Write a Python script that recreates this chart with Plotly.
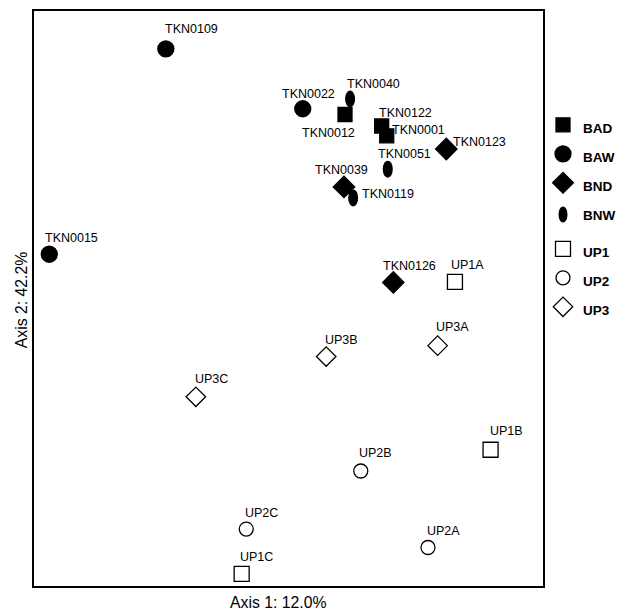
import plotly.graph_objects as go

FONT = "Liberation Sans, Arial, Helvetica, sans-serif"

# ---------------- data (ordination scores) -------------
bad_names = ["TKN0012", "TKN0122", "TKN0001"]
bad_x = [0.111, 0.183, 0.193]
bad_y = [0.320, 0.300, 0.283]

baw_names = ["TKN0109", "TKN0022", "TKN0015"]
baw_x = [-0.241, 0.028, -0.470]
baw_y = [0.434, 0.330, 0.077]

bnd_names = ["TKN0123", "TKN0039", "TKN0126"]
bnd_x = [0.310, 0.109, 0.206]
bnd_y = [0.260, 0.194, 0.028]

bnw_names = ["TKN0040", "TKN0051", "TKN0119"]
bnw_x = [0.121, 0.195, 0.127]
bnw_y = [0.347, 0.225, 0.175]

up1_names = ["UP1A", "UP1B", "UP1C"]
up1_x = [0.327, 0.397, -0.092]
up1_y = [0.029, -0.263, -0.479]

up2_names = ["UP2A", "UP2B", "UP2C"]
up2_x = [0.274, 0.142, -0.083]
up2_y = [-0.433, -0.300, -0.401]

up3_names = ["UP3A", "UP3B", "UP3C"]
up3_x = [0.293, 0.074, -0.182]
up3_y = [-0.082, -0.101, -0.171]

x_title = "Axis 1: 12.0%"
y_title = "Axis 2: 42.2%"

# ---------------- label placement (pixel offsets: right, down) ---------------------
label_offset = {
    "TKN0040": (-4, -16), "TKN0022": (-21, -16), "TKN0012": (-44, 17),
    "TKN0122": (-3, -14), "TKN0001": (5, -7), "TKN0123": (6, -8),
    "TKN0051": (-10, -16), "TKN0039": (-29, -18), "TKN0119": (8, -5),
    "TKN0015": (-5, -17), "TKN0109": (-1, -21), "TKN0126": (-11, -17.5),
    "UP1A": (-4, -18), "UP3A": (-2, -19.5), "UP3B": (-2, -18),
    "UP3C": (-1, -19), "UP1B": (-1, -19.5), "UP2B": (-2, -19),
    "UP2C": (-2, -17), "UP2A": (-1, -17.5), "UP1C": (-2, -18),
}
LABEL_DX, LABEL_DY = -1.5, 1   # global fine adjustment

ELLIPSE_W, ELLIPSE_H = 10, 17   # pixel size of the BNW ellipse symbol

fig = go.Figure()

def leg_name(s):
    return f"<span style='font-size:13.5px'>{s}</span>"

groups = [
    ("BAD", bad_names, bad_x, bad_y, "square", 14, "filled", 1),
    ("BAW", baw_names, baw_x, baw_y, "circle", 16, "filled", 2),
    ("BND", bnd_names, bnd_x, bnd_y, "diamond", 16.5, "filled", 3),
    ("UP1", up1_names, up1_x, up1_y, "square-open", 15, "open", 5),
    ("UP2", up2_names, up2_x, up2_y, "circle-open", 14, "open", 6),
    ("UP3", up3_names, up3_x, up3_y, "diamond-open", 15, "open", 7),
]

for name, names, xs, ys, sym, size, grp, rank in groups:
    fig.add_trace(go.Scatter(
        x=xs, y=ys, mode="markers", name=leg_name(name), text=names,
        legendgroup=grp, legendrank=rank,
        marker=dict(symbol=sym, size=size, color="black",
                    line=dict(color="black", width=1.3)),
        hoverinfo="text",
    ))

# BNW legend entry (its icon is drawn as an ellipse shape below)
fig.add_trace(go.Scatter(
    x=[None], y=[None], mode="markers", name=leg_name("BNW"),
    legendgroup="filled", legendrank=4,
    marker=dict(symbol="circle", size=1, color="rgba(0,0,0,0)"),
    hoverinfo="skip",
))

# BNW: vertical ellipses (pixel-sized shapes anchored at the data points)
for x, y in zip(bnw_x, bnw_y):
    fig.add_shape(
        type="circle", xref="x", yref="y", xsizemode="pixel", ysizemode="pixel",
        xanchor=x, yanchor=y, x0=-ELLIPSE_W / 2, x1=ELLIPSE_W / 2,
        y0=-ELLIPSE_H / 2, y1=ELLIPSE_H / 2,
        fillcolor="black", line=dict(color="black", width=0), layer="above",
    )
# ellipse icon next to the "BNW" legend text
fig.add_shape(
    type="circle", xref="paper", yref="paper", xsizemode="pixel", ysizemode="pixel",
    xanchor=1.0393, yanchor=0.6461, x0=-4.5, x1=4.5, y0=-8, y1=8,
    fillcolor="black", line=dict(color="black", width=0), layer="above",
)

# point labels
for names, xs, ys in [(bad_names, bad_x, bad_y), (baw_names, baw_x, baw_y),
                      (bnd_names, bnd_x, bnd_y), (bnw_names, bnw_x, bnw_y),
                      (up1_names, up1_x, up1_y), (up2_names, up2_x, up2_y),
                      (up3_names, up3_x, up3_y)]:
    for n, x, y in zip(names, xs, ys):
        dx, dy = label_offset[n]
        fig.add_annotation(x=x, y=y, xref="x", yref="y", text=n, showarrow=False,
                           xanchor="left", yanchor="middle",
                           xshift=dx + LABEL_DX, yshift=-(dy + LABEL_DY),
                           font=dict(family=FONT, size=12.5, color="black"))

# axis titles
fig.add_annotation(x=0.481, y=-0.028, xref="paper", yref="paper", text=x_title,
                   showarrow=False, xanchor="center", yanchor="middle",
                   font=dict(family=FONT, size=15.8, color="black"))
fig.add_annotation(x=-0.0255, y=0.497, xref="paper", yref="paper", text=y_title,
                   showarrow=False, xanchor="center", yanchor="middle", textangle=-90,
                   font=dict(family=FONT, size=15.8, color="black"))

axis_common = dict(showgrid=False, zeroline=False, showticklabels=False, ticks="",
                   showline=True, mirror=True, linecolor="black", linewidth=1.5,
                   fixedrange=True)

fig.update_layout(
    width=622, height=610,
    margin=dict(l=34, r=79, t=11, b=24, autoexpand=False),
    paper_bgcolor="white", plot_bgcolor="white",
    xaxis=dict(range=[-0.5, 0.5], **axis_common),
    yaxis=dict(range=[-0.5, 0.5], **axis_common),
    showlegend=True,
    legend=dict(x=1.0, xanchor="left", y=0.836, yanchor="top",
                font=dict(family=FONT, size=20, color="black", weight="bold"),
                tracegroupgap=8, itemsizing="trace", bgcolor="rgba(0,0,0,0)",
                borderwidth=0),
    font=dict(family=FONT, color="black"),
)

fig.write_html("out.html")
